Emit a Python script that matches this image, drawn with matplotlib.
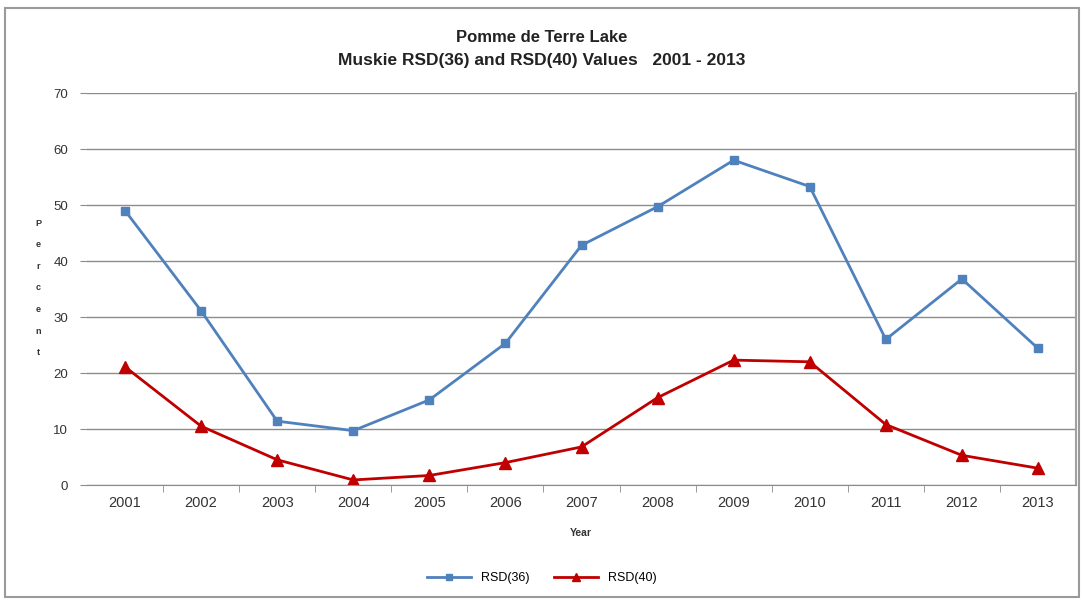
import matplotlib.pyplot as plt
from matplotlib.patches import Rectangle

plt.rcParams['font.family'] = ['Liberation Sans', 'DejaVu Sans']

years = ['2001', '2002', '2003', '2004', '2005', '2006', '2007',
         '2008', '2009', '2010', '2011', '2012', '2013']
rsd36 = [49.0, 31.1, 11.4, 9.7, 15.2, 25.3, 42.8, 49.7, 58.0, 53.3, 26.0, 36.8, 24.4]
rsd40 = [21.1, 10.5, 4.5, 0.9, 1.7, 4.0, 6.8, 15.6, 22.3, 22.0, 10.8, 5.3, 3.0]

fig = plt.figure(figsize=(10.84, 6.01), dpi=100)
ax = fig.add_axes([87 / 1084, 1 - 485 / 601, 989 / 1084, 392 / 601])

x = list(range(len(years)))
ax.plot(x, rsd36, color='#4F81BD', lw=2, marker='s', ms=6,
        markerfacecolor='#4F81BD', markeredgecolor='#4F81BD', label='RSD(36)')
ax.plot(x, rsd40, color='#C00000', lw=2, marker='^', ms=8,
        markerfacecolor='#C00000', markeredgecolor='#C00000', label='RSD(40)')

ax.set_xlim(-0.5, len(years) - 0.5)
ax.set_ylim(0, 70)
ax.set_yticks(range(0, 71, 10))
ax.set_xticks(x)
ax.set_xticklabels(years)
ax.set_xticks([i + 0.5 for i in x[:-1]], minor=True)
ax.grid(axis='y', color='#8c8c8c', lw=1)
ax.set_axisbelow(True)
ax.tick_params(axis='x', which='major', length=0, labelsize=10.5, colors='#333333', pad=8)
ax.tick_params(axis='x', which='minor', length=5, color='#8c8c8c')
ax.tick_params(axis='y', length=5, color='#8c8c8c', labelsize=9.5, labelcolor='#333333', pad=8.5)
for s in ['top', 'left']:
    ax.spines[s].set_visible(False)
ax.spines['bottom'].set_color('#8c8c8c')
ax.spines['right'].set_color('#a0a0a0')
ax.spines['right'].set_linewidth(1.5)

fig.text(0.5, 1 - 38 / 601, 'Pomme de Terre Lake', ha='center', va='center',
         fontsize=12, fontweight='bold', color='#222222')
fig.text(0.5, 1 - 60 / 601, 'Muskie RSD(36) and RSD(40) Values   2001 - 2013', ha='center',
         va='center', fontsize=12.5, fontweight='bold', color='#222222')
fig.text(38 / 1084, 1 - 288 / 601, 'P\ne\nr\nc\ne\nn\nt', ha='center', va='center',
         fontsize=6.5, fontweight='bold', linespacing=2.8, color='#333333')
fig.text(581 / 1084, 1 - 533 / 601, 'Year', ha='center', va='center', fontsize=7.5,
         fontweight='bold', color='#333333')

fig.legend(loc='center', bbox_to_anchor=(0.5, 1 - 578 / 601), ncol=2, frameon=False,
           fontsize=9, handlelength=3.5, markerscale=0.8, columnspacing=2)

fig.patches.append(Rectangle((5 / 1084, 4 / 601), 1074 / 1084, 589 / 601,
                             transform=fig.transFigure, fill=False,
                             edgecolor='#9a9a9a', lw=1.5))

fig.savefig('out.png', dpi=100, facecolor='white')
